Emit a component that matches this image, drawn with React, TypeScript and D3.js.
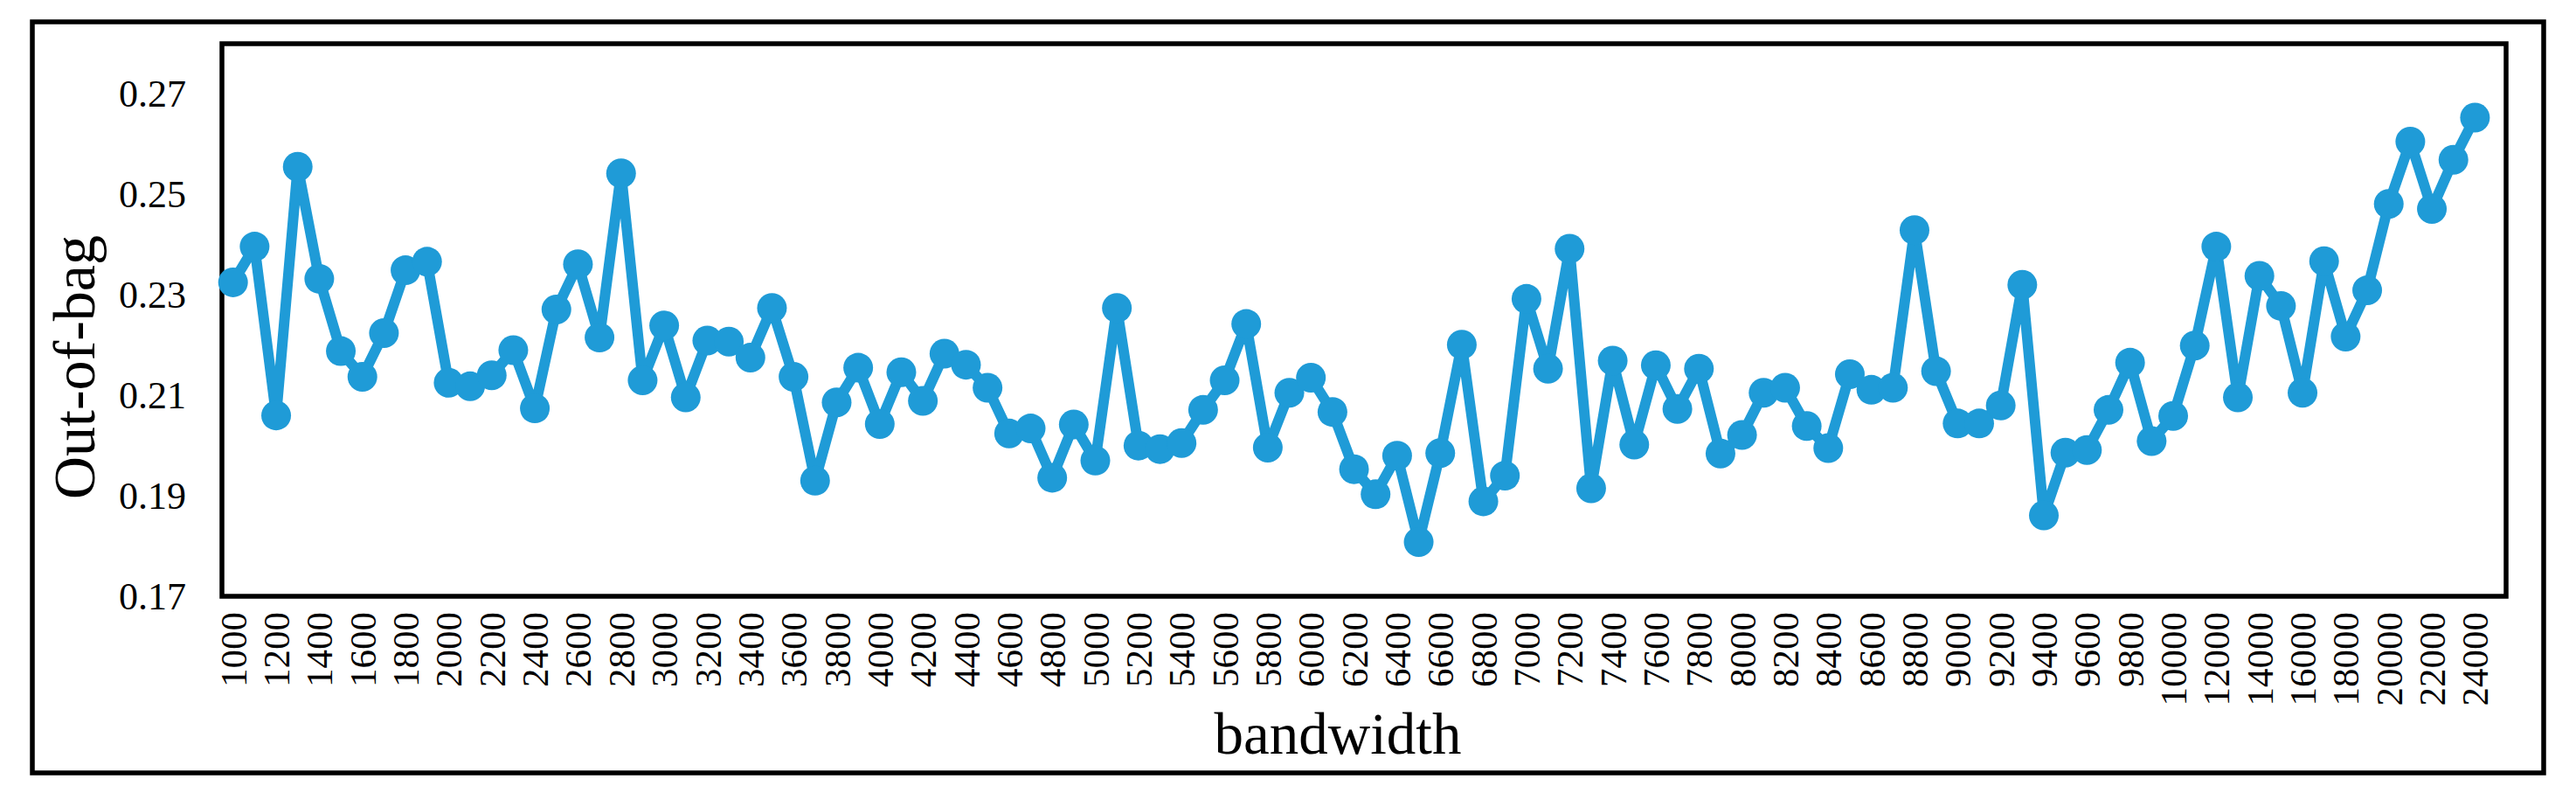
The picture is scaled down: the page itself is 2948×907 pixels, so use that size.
import React from 'react';
import * as d3 from 'd3';

const categories: number[] = [
  1000, 1100, 1200, 1300, 1400, 1500, 1600, 1700, 1800, 1900,
  2000, 2100, 2200, 2300, 2400, 2500, 2600, 2700, 2800, 2900,
  3000, 3100, 3200, 3300, 3400, 3500, 3600, 3700, 3800, 3900,
  4000, 4100, 4200, 4300, 4400, 4500, 4600, 4700, 4800, 4900,
  5000, 5100, 5200, 5300, 5400, 5500, 5600, 5700, 5800, 5900,
  6000, 6100, 6200, 6300, 6400, 6500, 6600, 6700, 6800, 6900,
  7000, 7100, 7200, 7300, 7400, 7500, 7600, 7700, 7800, 7900,
  8000, 8100, 8200, 8300, 8400, 8500, 8600, 8700, 8800, 8900,
  9000, 9100, 9200, 9300, 9400, 9500, 9600, 9700, 9800, 9900,
  10000, 11000, 12000, 13000, 14000, 15000, 16000, 17000, 18000, 19000,
  20000, 21000, 22000, 23000, 24000,
];

const oobValues: number[] = [
  0.2325, 0.2396, 0.2060, 0.2555, 0.2332, 0.2188, 0.2137, 0.2224, 0.2349, 0.2366,
  0.2125, 0.2118, 0.2140, 0.2190, 0.2074, 0.2271, 0.2361, 0.2215, 0.2542, 0.2130,
  0.2239, 0.2096, 0.2209, 0.2207, 0.2175, 0.2274, 0.2137, 0.1930, 0.2086, 0.2155,
  0.2043, 0.2146, 0.2089, 0.2183, 0.2161, 0.2115, 0.2024, 0.2034, 0.1936, 0.2042,
  0.1970, 0.2274, 0.2000, 0.1993, 0.2005, 0.2071, 0.2130, 0.2242, 0.1996, 0.2105,
  0.2135, 0.2067, 0.1953, 0.1903, 0.1980, 0.1808, 0.1985, 0.2201, 0.1889, 0.1940,
  0.2292, 0.2153, 0.2392, 0.1915, 0.2169, 0.2002, 0.2160, 0.2073, 0.2153, 0.1984,
  0.2021, 0.2105, 0.2115, 0.2039, 0.1995, 0.2142, 0.2111, 0.2115, 0.2429, 0.2148,
  0.2044, 0.2044, 0.2080, 0.2320, 0.1861, 0.1986, 0.1991, 0.2071, 0.2165, 0.2009,
  0.2059, 0.2199, 0.2396, 0.2096, 0.2338, 0.2278, 0.2105, 0.2367, 0.2217, 0.2309,
  0.2481, 0.2605, 0.2471, 0.2569, 0.2653,
];

const yTicks: number[] = [0.17, 0.19, 0.21, 0.23, 0.25, 0.27];
const xTickLabels: string[] = categories.filter((_, i) => i % 2 === 0).map(String);

const W = 2948;
const H = 907;
const PLOT = { left: 254, right: 2868, top: 50, bottom: 682 };
const OUTER = { left: 37, right: 2911, top: 25, bottom: 884 };
const COLOR = '#1f9bd7';
const FONT = '"Liberation Serif", "Times New Roman", serif';

export default function App() {
  const x = d3
    .scalePoint<string>()
    .domain(categories.map(String))
    .range([266.7, 2832.4]);
  const y = d3.scaleLinear().domain([0.17, 0.28]).range([PLOT.bottom, PLOT.top]);

  const line = d3
    .line<number>()
    .x((_, i) => x(String(categories[i])) as number)
    .y((d) => y(d));

  return (
    <svg
      width={W}
      height={H}
      style={{ position: 'absolute', left: 0, top: 0, display: 'block', background: '#fff' }}
    >
      <rect x={0} y={0} width={W} height={H} fill="#fff" />
      <rect
        x={OUTER.left}
        y={OUTER.top}
        width={OUTER.right - OUTER.left}
        height={OUTER.bottom - OUTER.top}
        fill="none"
        stroke="#000"
        strokeWidth={5.5}
      />
      <rect
        x={PLOT.left}
        y={PLOT.top}
        width={PLOT.right - PLOT.left}
        height={PLOT.bottom - PLOT.top}
        fill="none"
        stroke="#000"
        strokeWidth={5.5}
      />
      {yTicks.map((t) => (
        <text
          key={t}
          x={213}
          y={y(t)}
          dy="0.34em"
          textAnchor="end"
          fontFamily={FONT}
          fontSize={44}
          fill="#000"
        >
          {t.toFixed(2)}
        </text>
      ))}
      {xTickLabels.map((lab) => {
        const px = x(lab) as number;
        return (
          <text
            key={lab}
            transform={`translate(${px},700) rotate(-90)`}
            dy="0.35em"
            textAnchor="end"
            fontFamily={FONT}
            fontSize={43}
            fill="#000"
          >
            {lab}
          </text>
        );
      })}
      <path
        d={line(oobValues) || ''}
        fill="none"
        stroke={COLOR}
        strokeWidth={12}
        strokeLinejoin="round"
      />
      {oobValues.map((v, i) => (
        <circle
          key={i}
          cx={x(String(categories[i])) as number}
          cy={y(v)}
          r={17}
          fill={COLOR}
        />
      ))}
      <text
        transform={`translate(108,420) rotate(-90)`}
        textAnchor="middle"
        fontFamily={FONT}
        fontSize={68}
        fill="#000"
      >
        Out-of-bag
      </text>
      <text
        x={1531}
        y={862}
        textAnchor="middle"
        fontFamily={FONT}
        fontSize={67}
        fill="#000"
      >
        bandwidth
      </text>
    </svg>
  );
}
